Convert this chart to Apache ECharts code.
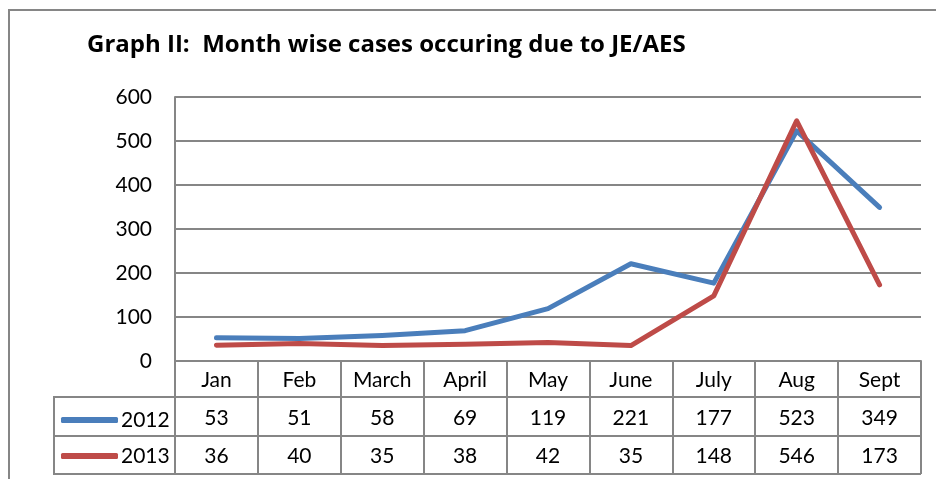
<!DOCTYPE html>
<html>
<head>
<meta charset="utf-8">
<script src="https://cdn.jsdelivr.net/npm/echarts@6/dist/echarts.min.js"></script>
<style>
html,body{margin:0;padding:0;background:#fff;}
#chart{width:936px;height:479px;}
</style>
</head>
<body>
<div id="chart"></div>
<script>
const months = ["Jan", "Feb", "March", "April", "May", "June", "July", "Aug", "Sept"];
const cases2012 = [53, 51, 58, 69, 119, 221, 177, 523, 349];
const cases2013 = [36, 40, 35, 38, 42, 35, 148, 546, 173];
const seriesNames = ["2012", "2013"];
const yTicks = { min: 0, max: 600, interval: 100 };

const FONT = "Lato, 'Open Sans', sans-serif";
const GRID = "#868686";
const chart = echarts.init(document.getElementById('chart'), null, { renderer: 'canvas' });

chart.setOption({
  backgroundColor: '#fff',
  animation: false,
  title: {
    text: 'Graph II:  Month wise cases occuring due to JE/AES',
    left: 82, top: 28,
    textStyle: { fontFamily: "'Open Sans', Lato, sans-serif", fontSize: 24, fontWeight: 'bold', color: '#000' }
  },
  legend: {
    orient: 'vertical',
    left: 56, top: 404,
    itemWidth: 57, itemHeight: 6, itemGap: 14,
    icon: 'roundRect',
    textStyle: { fontFamily: FONT, fontSize: 21, color: '#000', lineHeight: 22, padding: [0, 0, 0, -2] },
    data: seriesNames
  },
  grid: { left: 175, right: 15, top: 97, bottom: 118, containLabel: false },
  xAxis: {
    type: 'category',
    data: months,
    boundaryGap: true,
    axisLine: { show: true, lineStyle: { color: GRID, width: 2 } },
    axisTick: { show: true, length: 113, lineStyle: { color: GRID, width: 2 } },
    axisLabel: {
      margin: 0,
      interval: 0,
      formatter: function (v, i) {
        return '{m|' + v + '}\n{v|' + cases2012[i] + '}\n{v|' + cases2013[i] + '}';
      },
      rich: {
        m: { fontFamily: FONT, fontSize: 21, lineHeight: 38, color: '#000' },
        v: { fontFamily: FONT, fontSize: 21, lineHeight: 38, color: '#000' }
      }
    }
  },
  yAxis: {
    type: 'value',
    min: yTicks.min, max: yTicks.max, interval: yTicks.interval,
    axisLine: { show: true, lineStyle: { color: GRID, width: 2 } },
    axisTick: { show: false },
    splitLine: { show: true, lineStyle: { color: GRID, width: 2 } },
    axisLabel: { margin: 23, fontFamily: FONT, fontSize: 21, color: '#000' }
  },
  series: [
    { name: seriesNames[0], type: 'line', data: cases2012, symbol: 'none',
      lineStyle: { width: 5, color: '#4A7EBB', cap: 'round', join: 'round' }, itemStyle: { color: '#4A7EBB' } },
    { name: seriesNames[1], type: 'line', data: cases2013, symbol: 'none',
      lineStyle: { width: 5, color: '#BE4B48', cap: 'round', join: 'round' }, itemStyle: { color: '#BE4B48' } }
  ],
  graphic: [
    { type: 'rect', shape: { x: 9, y: 10, width: 940, height: 480 },
      style: { fill: null, stroke: GRID, lineWidth: 2 }, silent: true },
    { type: 'line', shape: { x1: 53, y1: 397, x2: 921, y2: 397 }, style: { stroke: GRID, lineWidth: 2 } },
    { type: 'line', shape: { x1: 53, y1: 436, x2: 921, y2: 436 }, style: { stroke: GRID, lineWidth: 2 } },
    { type: 'line', shape: { x1: 53, y1: 474, x2: 921, y2: 474 }, style: { stroke: GRID, lineWidth: 2 } },
    { type: 'line', shape: { x1: 54, y1: 397, x2: 54, y2: 474 }, style: { stroke: GRID, lineWidth: 2 } }
  ]
});
</script>
</body>
</html>
